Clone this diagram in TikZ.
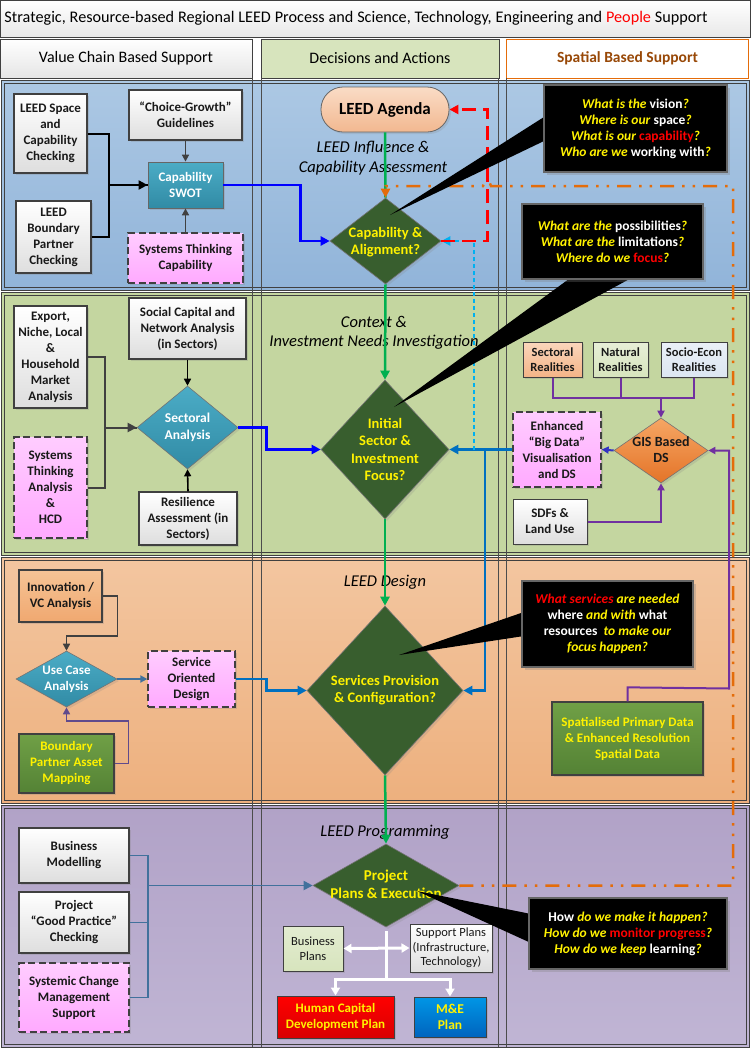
\documentclass[tikz,border=0pt]{standalone}
\usepackage{fontspec}
\setmainfont{Carlito}
\usetikzlibrary{arrows.meta,shapes.geometric,shadows,calc}
\definecolor{bandBlueT}{RGB}{172,200,228}
\definecolor{bandBlueB}{RGB}{145,180,217}
\definecolor{bandGreen}{RGB}{196,214,160}
\definecolor{bandOrT}{RGB}{243,198,160}
\definecolor{bandOrB}{RGB}{237,176,126}
\definecolor{bandPuT}{RGB}{177,162,199}
\definecolor{bandPuB}{RGB}{192,181,212}
\definecolor{dgreen}{RGB}{56,94,46}
\definecolor{tealT}{RGB}{75,172,198}
\definecolor{tealB}{RGB}{49,139,165}
\definecolor{pinkT}{RGB}{255,204,255}
\definecolor{pinkB}{RGB}{255,170,255}
\definecolor{peachT}{RGB}{250,214,188}
\definecolor{peachB}{RGB}{244,180,135}
\definecolor{lgreen}{RGB}{215,228,189}
\definecolor{lblue}{RGB}{220,230,242}
\definecolor{orangeL}{RGB}{228,108,10}
\definecolor{gisT}{RGB}{246,166,100}
\definecolor{gisB}{RGB}{228,116,40}
\definecolor{mgreenT}{RGB}{112,160,70}
\definecolor{mgreenB}{RGB}{84,130,53}
\definecolor{blueL}{RGB}{0,112,192}
\definecolor{ltblueL}{RGB}{0,176,240}
\definecolor{greenL}{RGB}{0,176,80}
\definecolor{purpleL}{RGB}{112,48,160}
\definecolor{purpleM}{RGB}{96,74,140}
\definecolor{steel}{RGB}{65,113,156}
\definecolor{brownH}{RGB}{152,72,7}
\definecolor{mneT}{RGB}{0,150,230}
\definecolor{mneB}{RGB}{0,100,190}
\definecolor{innT}{RGB}{246,196,150}
\definecolor{innB}{RGB}{240,168,112}
\definecolor{agT}{RGB}{250,220,198}
\definecolor{agB}{RGB}{242,184,144}
\newcommand{\cy}[1]{\textcolor{yellow}{\textit{#1}}}
\newcommand{\cre}[1]{\textcolor{red}{#1}}
\begin{document}
\begin{tikzpicture}[x=1pt,y=-1pt,
  box/.style={draw=black!75, line width=1.3pt, top color=white, bottom color=black!13,
    align=center, font=\bfseries\fontsize{13}{16}\selectfont, inner sep=1pt, text=black!90,
    drop shadow={shadow xshift=2pt,shadow yshift=-2pt,opacity=0.25}},
  pinkbox/.style={box, dash pattern=on 7pt off 3.5pt, top color=pinkT, bottom color=pinkB},
  tealbox/.style={box, draw=black!60, line width=0.8pt, top color=tealT, bottom color=tealB, text=white},
  dia/.style={diamond, draw=black!55, line width=0.6pt, inner sep=0pt,
    drop shadow={shadow xshift=2pt,shadow yshift=-2pt,opacity=0.2}},
  dtext/.style={align=center, font=\bfseries\fontsize{14.5}{17.5}\selectfont, text=yellow, inner sep=0pt},
  sect/.style={align=center, font=\itshape\fontsize{16.5}{19.5}\selectfont, text=black},
  callout/.style={fill=black, draw=black!60, line width=1.2pt, align=center,
    font=\bfseries\fontsize{13.5}{16}\selectfont, text=white,
    drop shadow={shadow xshift=3pt,shadow yshift=-3pt,opacity=0.3,fill=black!50}},
  hdr/.style={draw=black!75, line width=1pt, align=center, font=\fontsize{16}{19}\selectfont},
  arr/.style={-{Triangle[length=9pt,width=9pt]}},
  sarr/.style={-{Triangle[length=7pt,width=7pt]}},
]
\useasboundingbox (0,0) rectangle (751,1050);
\fill[white] (0,0) rectangle (751,1050);

% title and headers
\node[hdr, top color=white, bottom color=black!9, minimum width=750, minimum height=37,
  text width=742, align=left, font=\fontsize{16.2}{18}\selectfont] (title) at (375.5,18.5)
  {\spaceskip=0.24em\relax Strategic, Resource-based Regional LEED Process and Science, Technology, Engineering and \textcolor{red}{People} Support};
\node[hdr, top color=white, bottom color=black!10, minimum width=252, minimum height=39] (h1) at (126,58.5) {Value Chain Based Support};
\node[hdr, fill=lgreen, minimum width=238, minimum height=39] (h2) at (380,58.5) {Decisions and Actions};
\node[hdr, draw=orangeL, fill=white, text=brownH, font=\bfseries\fontsize{15.5}{18}\selectfont, minimum width=242, minimum height=39] (h3) at (627.5,58.5) {Spatial Based Support};

% bands
\foreach \t/\b/\ct/\cb in {80/290/bandBlueT/bandBlueB, 292/555/bandGreen/bandGreen, 557/803/bandOrT/bandOrB, 805/1047/bandPuT/bandPuB} {
  \shade[top color=\ct, bottom color=\cb] (2,\t) rectangle (749,\b);
  \draw[black!75, line width=1pt] (1,\t) rectangle (749,\b);
  \draw[black!75, line width=0.6pt] (4,\t+3) rectangle (746,\b-3);
}
\foreach \x in {252.5,261.5,498.5,506.5} \draw[black!70, line width=0.7pt] (\x,78) -- (\x,1047);

% section titles
\node[sect] (t1) at (373,158) {LEED Influence \&\\Capability Assessment};
\node[sect] (t2) at (374,333) {Context \&\\Investment Needs Investigation};
\node[sect] (t3) at (385,582) {LEED Design};
\node[sect] (t4) at (385,832) {LEED Programming};

% ---------- band 1 ----------
\node[box, minimum width=73, minimum height=79] (space) at (50.5,133.5) {LEED Space\\and\\Capability\\Checking};
\node[box, minimum width=75, minimum height=72] (bound) at (53.5,237) {LEED\\Boundary\\Partner\\Checking};
\node[box, minimum width=113, minimum height=50] (choice) at (185.5,115) {“Choice-Growth”\\Guidelines};
\node[tealbox, minimum width=75, minimum height=46] (swot) at (185.5,185) {Capability\\SWOT};
\node[pinkbox, minimum width=115, minimum height=50] (stc) at (185.5,258) {Systems Thinking\\Capability};
\node[draw=black!60, line width=0.8pt, rounded corners=22pt, top color=agT, bottom color=agB,
  minimum width=128, minimum height=45, font=\bfseries\fontsize{17}{19}\selectfont,
  drop shadow={shadow xshift=2pt,shadow yshift=-2pt,opacity=0.2}] (agenda) at (385,109.5) {LEED Agenda};
\node[dia, fill=dgreen, minimum width=111, minimum height=86] (capdia) at (385.5,241) {};
\node[dtext] (capdiaT) at (385.5,242) {Capability \&\\Alignment?};

\draw[black, line width=2pt] (bound.east) -- ++(17,0) |- (swot.west);
\draw[black, line width=2pt, arr] (space.east) -- ++(21,0) |- (swot.west);
\draw[black!75, line width=1.6pt, sarr] (choice.south) -- (swot.north);
\draw[black!75, line width=1.6pt, sarr] (stc.north) -- (swot.south);
\draw[blue, line width=2.5pt, arr] (swot.east) -- ++(77,0) |- (capdia.west);

% ---------- band 2 ----------
\node[box, minimum width=73, minimum height=102] (export) at (50.5,357) {Export,\\Niche, Local\\\&\\Household\\Market\\Analysis};
\node[pinkbox, minimum width=73, minimum height=101] (sta) at (50.5,487.5) {Systems\\Thinking\\Analysis\\\&\\HCD};
\node[box, minimum width=117, minimum height=61] (social) at (187.5,328.5) {Social Capital and\\Network Analysis\\(in Sectors)};
\node[dia, top color=tealT, bottom color=tealB, minimum width=101, minimum height=83] (secdia) at (187.5,427.5) {};
\node[dtext, text=white, font=\bfseries\fontsize{13.5}{16.5}\selectfont] (secdiaT) at (187.5,427.5) {Sectoral\\Analysis};
\node[box, minimum width=98, minimum height=53] (resil) at (188,518.5) {Resilience\\Assessment (in\\Sectors)};
\node[dia, fill=dgreen, minimum width=128, minimum height=139] (initdia) at (385,449.5) {};
\node[dtext] (initdiaT) at (385,449.5) {Initial\\Sector \&\\Investment\\Focus?};

\draw[black!75, line width=2pt] (sta.east) -- ++(17,0) |- (secdia.west);
\draw[black!75, line width=2pt, arr] (export.east) -- ++(17,0) |- (secdia.west);
\draw[black, line width=1.6pt, sarr] (social.south) -- (secdia.north);
\draw[black, line width=1.6pt, sarr] (resil.north) -- (secdia.south);
\draw[blue, line width=2.5pt, arr] (secdia.east) -- ++(28,0) |- (initdia.west);

% right side band 2
\node[box, line width=1pt, top color=peachT, bottom color=peachB, font=\bfseries\fontsize{12.5}{15}\selectfont, minimum width=59, minimum height=35] (secreal) at (552.5,359.5) {Sectoral\\Realities};
\node[box, line width=1pt, top color=lgreen!60, bottom color=lgreen, font=\bfseries\fontsize{12.5}{15}\selectfont, minimum width=55, minimum height=35] (natreal) at (620.5,359.5) {Natural\\Realities};
\node[box, line width=1pt, top color=lblue!60, bottom color=lblue, font=\bfseries\fontsize{12.5}{15}\selectfont, minimum width=66, minimum height=35] (socreal) at (694,359.5) {Socio-Econ\\Realities};
\node[dia, top color=gisT, bottom color=gisB, minimum width=94, minimum height=65] (gisdia) at (661,450.5) {};
\node[dtext, text=black!90, font=\bfseries\fontsize{14}{16}\selectfont] (gisdiaT) at (661,450) {GIS Based\\DS};
\node[pinkbox, minimum width=88, minimum height=75] (bigdata) at (557,449.5) {Enhanced\\“Big Data”\\Visualisation\\and DS};
\node[box, line width=1pt, minimum width=74, minimum height=45] (sdfs) at (550,521.5) {SDFs \&\\Land Use};

\coordinate (pj) at (661,398);
\draw[purpleL, line width=2pt] (secreal.south) |- (socreal.south |- pj) -- (socreal.south);
\draw[purpleL, line width=2pt] (natreal.south) -- (natreal.south |- pj);
\draw[purpleL, line width=2pt, sarr] (pj) -- (gisdia.north);
\draw[purpleL, line width=2pt, sarr] (sdfs.east) -| (gisdia.south);
\draw[blue!70!black!80!white, line width=2pt, sarr] (gisdia.west) -- (bigdata.east);

% ---------- band 3 ----------
\node[box, top color=innT, bottom color=innB, minimum width=83, minimum height=52] (innov) at (60.5,596) {Innovation /\\VC Analysis};
\node[dia, top color=tealT, bottom color=tealB, minimum width=101, minimum height=56] (ucdia) at (66.5,679) {};
\node[dtext, text=white, font=\bfseries\fontsize{13}{15.5}\selectfont] (ucdiaT) at (66.5,679) {Use Case\\Analysis};
\node[pinkbox, minimum width=87, minimum height=56] (sod) at (191.5,679) {Service\\Oriented\\Design};
\node[box, top color=mgreenT, bottom color=mgreenB, text=yellow, minimum width=95, minimum height=59] (bpam) at (66.5,763.5) {Boundary\\Partner Asset\\Mapping};
\node[dia, fill=dgreen, minimum width=156, minimum height=169] (servdia) at (385,690.5) {};
\node[dtext] (servdiaT) at (385,690) {Services Provision\\\& Configuration?};
\node[box, top color=mgreenT, bottom color=mgreenB, text=yellow, minimum width=151, minimum height=73, font=\bfseries\fontsize{13}{16}\selectfont] (spatial) at (627.5,738.5) {Spatialised Primary Data\\\& Enhanced Resolution\\Spatial Data};

\draw[black!75, line width=1.6pt, sarr] (innov.east) -- ++(15,0) -- ++(0,40) -| (ucdia.north);
\draw[purpleM, line width=1.6pt, sarr] (bpam.east) -- ++(14,0) -- ++(0,-42.5) -| (ucdia.south);
\draw[steel, line width=1.8pt, sarr] (ucdia.east) -- (sod.west);
\draw[blueL, line width=2.5pt, arr] (sod.east) -- ++(31,0) |- (servdia.west);
\draw[purpleL, line width=2pt, sarr] (spatial.north) -- ++(0,-14) -- (729,688.5) |- (gisdia.east);

% blue from big data
\coordinate (bj) at (485,449.5);
\draw[blueL, line width=2.5pt, arr] (bigdata.west) -- (initdia.east);
\draw[blueL, line width=2.5pt, arr] (bj) |- (servdia.east);

% ---------- band 4 ----------
\node[box, minimum width=110, minimum height=55] (busmod) at (74,855.5) {Business\\Modelling};
\node[box, minimum width=110, minimum height=61] (goodp) at (74,922.5) {Project\\“Good Practice”\\Checking};
\node[pinkbox, minimum width=110, minimum height=69] (sysch) at (74,997.5) {Systemic Change\\Management\\Support};
\node[dia, fill=dgreen, minimum width=146, minimum height=83] (projdia) at (386,885.5) {};
\node[dtext, font=\bfseries\fontsize{15}{17.5}\selectfont] (projdiaT) at (386,884.5) {Project\\Plans \& Execution};
\node[box, line width=1pt, top color=lgreen!70, bottom color=lgreen, font=\fontsize{12.5}{15}\selectfont, minimum width=60, minimum height=45] (busplans) at (313,948.5) {Business\\Plans};
\node[box, line width=1pt, font=\fontsize{12.5}{14.5}\selectfont, minimum width=82, minimum height=48] (supplans) at (451,948) {Support Plans\\(Infrastructure,\\Technology)};
\node[box, line width=1pt, fill=red, top color=red, bottom color=red!85!black, text=yellow, font=\bfseries\fontsize{13}{16}\selectfont, minimum width=117, minimum height=42] (hcdp) at (335.5,1017) {Human Capital\\Development Plan};
\node[box, line width=1pt, top color=mneT, bottom color=mneB, text=yellow, font=\bfseries\fontsize{13.5}{16}\selectfont, minimum width=72, minimum height=40] (mne) at (450,1017) {M\&E\\Plan};

\coordinate (sj) at (148,885.5);
\draw[steel, line width=1.6pt] (busmod.east) -| (sj);
\draw[steel, line width=1.6pt] (sysch.east) -| (sj);
\draw[steel, line width=1.6pt] (goodp.east) -- (goodp.east -| sj);
\draw[steel, line width=1.8pt, arr] (sj) -- (projdia.west);

\coordinate (wj) at (386,979);
\draw[white, line width=3pt] ($(projdia.south)+(0,4)$) -- (wj);
\draw[white, line width=3pt, {Triangle[length=8pt,width=9pt]}-{Triangle[length=8pt,width=9pt]}] (busplans.east) -- (supplans.west);
\draw[white, line width=3pt, -{Triangle[length=8pt,width=9pt]}] (wj) -| (hcdp.north);
\draw[white, line width=3pt, -{Triangle[length=8pt,width=9pt]}] (wj) -| (mne.north);

% ---------- green spine ----------
\draw[greenL, line width=2.5pt] (agenda.south) -- (capdia.north);
\draw[greenL, line width=2.5pt, arr] (capdia.south) -- (initdia.north);
\draw[greenL, line width=2.5pt, arr] (initdia.south) -- (servdia.north);
\draw[greenL, line width=2.5pt, arr] (servdia.south) -- (projdia.north);

% ---------- feedback loops ----------
\coordinate (lb) at (474,449.5);
\draw[ltblueL, line width=2.5pt, dash pattern=on 4pt off 3pt, arr] (lb) |- (capdia.east);
\draw[red, line width=2.5pt, dash pattern=on 14pt off 7pt, arr] (capdia.east) -- ++(46,0) |- (agenda.east);
\coordinate (oc) at (733,186);
\coordinate (hop) at (491,186);
\draw[orangeL, line width=2.5pt, dash pattern=on 14pt off 8pt on 2.5pt off 8pt on 2.5pt off 8pt, arr]
  (projdia.east) -| (oc) -- (hop) arc[start angle=0, end angle=-180, radius=4] -| (capdia.north);

% ---------- callouts ----------
\fill[black] (544,117) -- (390,215) -- (544,141) -- cycle;
\node[callout, minimum width=183, minimum height=87] (c1) at (635.5,128.5)
  {\cy{What is the} vision\cy{?}\\\cy{Where is our} space\cy{?}\\\cy{What is our} \cre{capability}\cy{?}\\\cy{Who are we} working with\cy{?}};
\fill[black] (573,276) -- (394,407) -- (635,276) -- cycle;
\node[callout, minimum width=181, minimum height=75] (c2) at (612.5,241.5)
  {\cy{What are the} possibilities\cy{?}\\\cy{What are the} limitations\cy{?}\\\cy{Where do we} \cre{focus}\cy{?}};
\fill[black] (524,612) -- (399,655) -- (524,636) -- cycle;
\node[callout, minimum width=171, minimum height=86] (c3) at (607.5,624)
  {\cre{\textit{What services}} \cy{are needed}\\where \cy{and with} what\\resources\ \ \cy{to make our}\\\cy{focus happen?}};
\fill[black] (531,914) -- (417,891) -- (531,943) -- cycle;
\node[callout, minimum width=198, minimum height=71] (c4) at (628,933.5)
  {How \cy{do we make it happen?}\\\cy{How do we} \cre{monitor progress}\cy{?}\\\cy{How do we keep} learning\cy{?}};
\end{tikzpicture}
\end{document}
